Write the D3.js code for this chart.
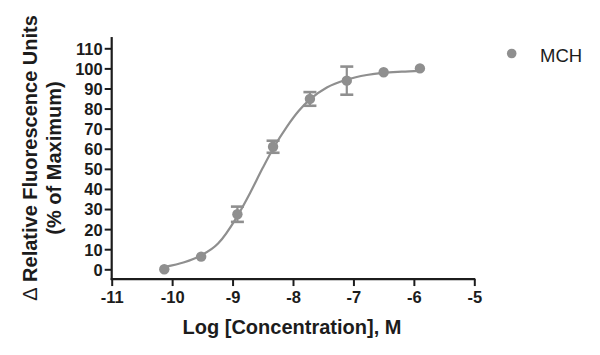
<!DOCTYPE html>
<html>
<head>
<meta charset="utf-8">
<script src="https://cdn.jsdelivr.net/npm/d3@7"></script>
<style>
  html, body { margin: 0; padding: 0; background: #fff; }
  svg { display: block; }
  text { font-family: "Liberation Sans", Arial, sans-serif; }
</style>
</head>
<body>
<svg id="chart" width="600" height="355"></svg>
<script>
// ---- data ----
const seriesName = "MCH";
const logConc   = [-10.13, -9.52, -8.92, -8.33, -7.72, -7.11, -6.5, -5.9];
const response  = [0, 6.3, 27.4, 61, 84.8, 93.9, 98.1, 100];
const errorSEM  = [0, 0, 3.8, 3, 3.4, 7, 0, 0];
// fitted curve
const fitX = [-10.12, -9.8, -9.54, -9.24, -8.93, -8.71, -8.5, -8.33, -8.1, -7.9, -7.72, -7.44, -7.11, -6.78, -6.51, -6.2, -5.9];
const fitY = [1.2, 3.5, 6.6, 12.8, 26, 38, 50.5, 60, 71, 79, 84.6, 90.5, 94.4, 96.7, 97.8, 98.4, 98.8];
const xTicks = [-11, -10, -9, -8, -7, -6, -5];
const yTicks = [0, 10, 20, 30, 40, 50, 60, 70, 80, 90, 100, 110];

const gray = "#8f8f8f";
const ink = "#1c1c1c";

const svg = d3.select("#chart");
const x = d3.scaleLinear().domain([-11, -5]).range([111.7, 474.3]);
const y = d3.scaleLinear().domain([0, 110]).range([269.3, 48.3]);
const yBottom = y(-4.85), yTop = y(115.6);

// y axis
const yAxis = svg.append("g").attr("transform", `translate(${x(-11)},0)`)
  .call(d3.axisLeft(y).tickValues(yTicks).tickSize(7).tickPadding(2).tickSizeOuter(0));
yAxis.select(".domain").remove();
yAxis.append("line").attr("x1", 0).attr("x2", 0).attr("y1", yTop).attr("y2", yBottom + 1)
  .attr("stroke", ink).attr("stroke-width", 2.2);

// x axis
const xAxis = svg.append("g").attr("transform", `translate(0,${yBottom})`)
  .call(d3.axisBottom(x).tickValues(xTicks).tickSize(7).tickPadding(5).tickSizeOuter(0)
        .tickFormat(d => d));
xAxis.select(".domain").remove();
xAxis.append("line").attr("x1", x(-11) - 1).attr("x2", x(-5) + 1).attr("y1", 0).attr("y2", 0)
  .attr("stroke", ink).attr("stroke-width", 2.2);

[yAxis, xAxis].forEach(g => {
  g.selectAll(".tick line").attr("stroke", ink).attr("stroke-width", 2);
  g.selectAll(".tick text").attr("fill", ink).attr("font-size", 16.5).attr("font-weight", "bold")
    .attr("font-family", "'Liberation Sans', Arial, sans-serif");
});
yAxis.selectAll(".tick text").attr("dy", "0.36em");

// fit curve
const line = d3.line().x((d, i) => x(fitX[i])).y(d => y(d)).curve(d3.curveMonotoneX);
svg.append("path").attr("d", line(fitY)).attr("fill", "none")
  .attr("stroke", gray).attr("stroke-width", 2.2);

// error bars
const pts = logConc.map((c, i) => ({c, r: response[i], e: errorSEM[i]}));
const eb = svg.append("g").selectAll("g").data(pts.filter(d => d.e > 0)).join("g");
eb.append("line").attr("x1", d => x(d.c)).attr("x2", d => x(d.c))
  .attr("y1", d => y(d.r + d.e)).attr("y2", d => y(d.r - d.e))
  .attr("stroke", gray).attr("stroke-width", 2.2);
[1, -1].forEach(s => {
  eb.append("line").attr("x1", d => x(d.c) - 6.5).attr("x2", d => x(d.c) + 6.5)
    .attr("y1", d => y(d.r + s * d.e)).attr("y2", d => y(d.r + s * d.e))
    .attr("stroke", gray).attr("stroke-width", 2.6);
});

// points
svg.append("g").selectAll("circle").data(pts).join("circle")
  .attr("cx", d => x(d.c)).attr("cy", d => y(d.r)).attr("r", 5.2).attr("fill", gray);

// axis titles
svg.append("text").attr("x", 292).attr("y", 333.5).attr("text-anchor", "middle")
  .attr("font-size", 20).attr("font-weight", "bold").attr("fill", ink)
  .text("Log [Concentration], M");

const yl = svg.append("text").attr("transform", "translate(0,158) rotate(-90)")
  .attr("text-anchor", "middle").attr("font-size", 20).attr("font-weight", "bold").attr("fill", ink);
const l1 = yl.append("tspan").attr("x", 0).attr("y", 37);
l1.append("tspan").attr("font-weight", "normal").text("\u0394");
l1.append("tspan").text(" Relative Fluorescence Units");
yl.append("tspan").attr("x", 0).attr("y", 61).text("(% of Maximum)");

// legend
svg.append("circle").attr("cx", 511.7).attr("cy", 53.5).attr("r", 4.8).attr("fill", gray);
svg.append("text").attr("x", 540).attr("y", 61.5).attr("font-size", 18.5).attr("fill", ink)
  .text(seriesName);
</script>
</body>
</html>
